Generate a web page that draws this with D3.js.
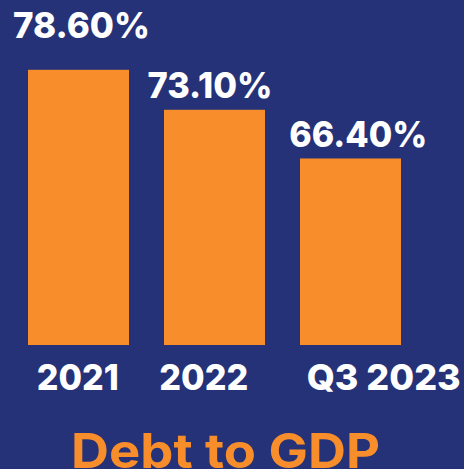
<!DOCTYPE html>
<html>
<head>
<meta charset="utf-8">
<script src="https://cdn.jsdelivr.net/npm/d3@7"></script>
<style>
  html, body { margin: 0; padding: 0; background: #253278; }
  svg { display: block; }
</style>
</head>
<body>
<svg id="chart" width="464" height="469"></svg>
<script>
// Debt-to-GDP ratio by period
const categories = ["2021", "2022", "Q3 2023"];
const values = [78.6, 73.1, 66.4];
const valueLabels = ["78.60%", "73.10%", "66.40%"];
const title = "Debt to GDP";

// Layout tweaks for the hand-placed labels (dx, baseline, rendered width)
const valueLabelDx = [3, -4.5, 7.7];
const valueLabelBaseline = [38, 97.7, 146.7];
const valueLabelWidth = [137, 125, 138];
const catLabelDx = [-0.7, -10.8, 33.2];
const catLabelWidth = [82, 89, 154];

const W = 464, H = 469;
const NAVY = "#253278", ORANGE = "#F78D2B";
const FONT = "Inter, 'Open Sans', sans-serif";

const svg = d3.select("#chart");
svg.append("rect").attr("width", W).attr("height", H).attr("fill", NAVY);

const x = d3.scaleBand()
  .domain(categories)
  .range([28, 401])
  .paddingInner(35 / 136)
  .paddingOuter(0);

const y = d3.scaleLinear()
  .domain([40.74, 78.6])
  .range([345, 69.8]);

const data = categories.map((c, i) => ({ c, v: values[i], label: valueLabels[i], i }));

// bars
svg.selectAll("rect.bar")
  .data(data)
  .join("rect")
  .attr("class", "bar")
  .attr("x", d => x(d.c))
  .attr("width", x.bandwidth())
  .attr("y", d => y(d.v))
  .attr("height", d => y.range()[0] - y(d.v))
  .attr("fill", ORANGE);

// value labels above bars
svg.selectAll("text.val")
  .data(data)
  .join("text")
  .attr("class", "val")
  .attr("x", d => x(d.c) + x.bandwidth() / 2 + valueLabelDx[d.i])
  .attr("y", d => valueLabelBaseline[d.i])
  .attr("text-anchor", "middle")
  .attr("font-family", FONT)
  .attr("font-weight", 800)
  .attr("font-size", 36)
  .attr("fill", "#ffffff")
  .attr("textLength", d => valueLabelWidth[d.i])
  .attr("lengthAdjust", "spacingAndGlyphs")
  .text(d => d.label);

// category axis (no line or ticks, labels only)
const xAxis = d3.axisBottom(x).tickSize(0).tickPadding(0);
const gx = svg.append("g")
  .attr("transform", `translate(0, 390)`)
  .call(xAxis);
gx.select(".domain").remove();
gx.selectAll(".tick text")
  .attr("dy", 0)
  .attr("y", 0)
  .attr("x", (d, i) => catLabelDx[i])
  .attr("text-anchor", "middle")
  .attr("font-family", FONT)
  .attr("font-weight", 800)
  .attr("font-size", 36)
  .attr("fill", "#ffffff")
  .attr("textLength", (d, i) => catLabelWidth[i])
  .attr("lengthAdjust", "spacingAndGlyphs");

// title
svg.append("text")
  .attr("x", 225.5)
  .attr("y", 468)
  .attr("text-anchor", "middle")
  .attr("font-family", FONT)
  .attr("font-weight", 700)
  .attr("font-size", 48)
  .attr("fill", ORANGE)
  .attr("textLength", 309)
  .attr("lengthAdjust", "spacingAndGlyphs")
  .text(title);
</script>
</body>
</html>
